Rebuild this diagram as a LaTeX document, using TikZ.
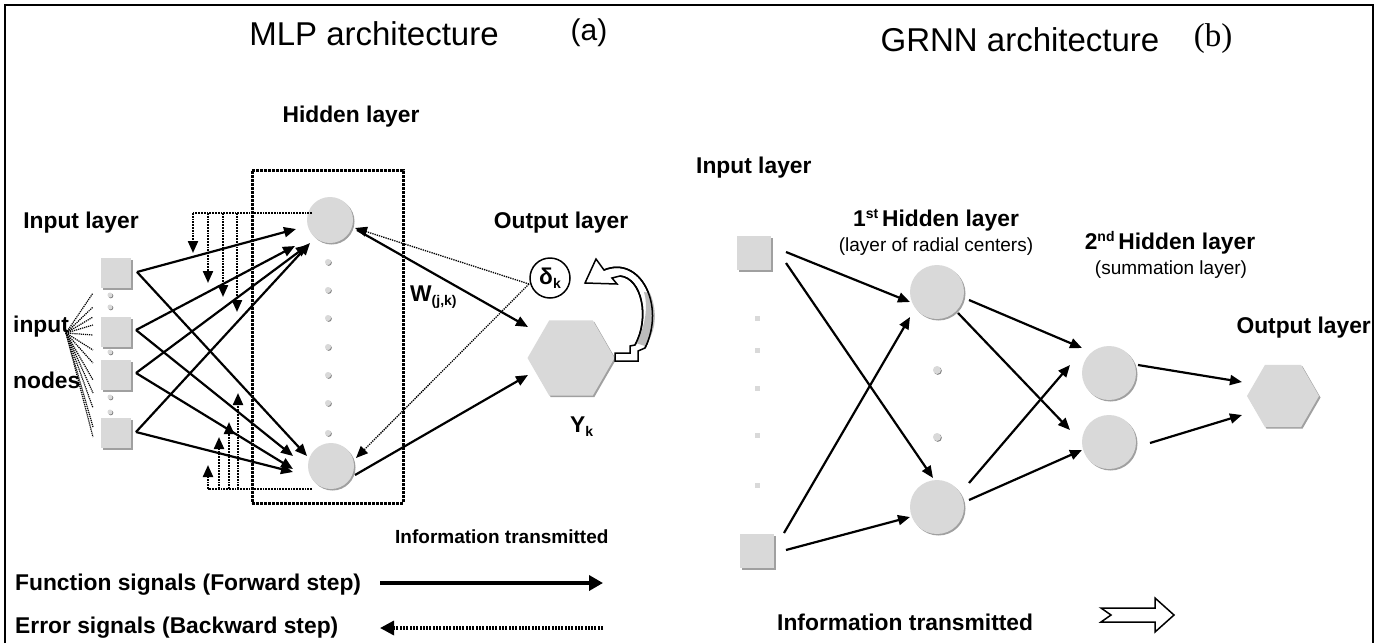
\documentclass[tikz,border=0pt]{standalone}
\usepackage{fontspec}
\setmainfont{Liberation Sans}
\newfontfamily\serifb{Liberation Serif}
\usetikzlibrary{arrows.meta,shapes.geometric,shadows}
\definecolor{nodegray}{RGB}{217,217,217}
\definecolor{shadegray}{RGB}{160,160,160}
\newcommand\lblfont{\bfseries\fontsize{22.8}{26}\selectfont}
\newcommand\mysub[1]{\raisebox{-4pt}{\fontsize{14}{14}\selectfont #1}}
\newcommand\mysup[1]{\raisebox{8pt}{\fontsize{14}{14}\selectfont #1}}
\begin{document}
\begin{tikzpicture}[x=1pt,y=-1pt,
  fwd/.style={line width=2.2pt,-{Triangle[length=12pt,width=10pt]}},
  errarrow/.style={line width=2.2pt,dash pattern=on 1.8pt off 1pt,-{Triangle[length=12pt,width=10pt]}},
  errline/.style={line width=2.2pt,dash pattern=on 1.8pt off 1pt},
  thindot/.style={line width=1.2pt,dash pattern=on 1.2pt off 0.9pt},
  thinerr/.style={line width=1.3pt,dash pattern=on 1.3pt off 1pt,-{Triangle[length=12pt,width=10pt]}},
  shad/.style={drop shadow={shadow xshift=1.5pt,shadow yshift=-1.5pt,fill=shadegray,opacity=1}},
  neuron/.style={circle,fill=nodegray,inner sep=0pt,shad},
  inbox/.style={rectangle,fill=nodegray,inner sep=0pt,shad},
  dotnode/.style={circle,fill=nodegray,inner sep=0pt,minimum size=6pt,drop shadow={shadow xshift=0.8pt,shadow yshift=-0.8pt,fill=gray,opacity=1}},
  sqdot/.style={rectangle,fill=nodegray,inner sep=0pt,minimum size=5pt,drop shadow={shadow xshift=0.8pt,shadow yshift=-0.8pt,fill=gray,opacity=1}},
  hexa/.style={regular polygon,regular polygon sides=6,fill=nodegray,inner sep=0pt,shad},
  lbl/.style={font=\lblfont,inner sep=0pt},
  title/.style={font=\fontsize{33}{36}\selectfont,inner sep=0pt},
  sublbl/.style={font=\fontsize{19}{22}\selectfont,inner sep=0pt}
]
\useasboundingbox (0,0) rectangle (1378,643);
\fill[white] (0,0) rectangle (1378,643);
\draw[line width=1.5pt] (5,643) -- (5,5) -- (1373,5) -- (1373,643);

% ================= MLP =================
\node[title] (tA) at (374,34) {MLP architecture};
\node[title,font=\fontsize{30}{34}\selectfont] (tAa) at (589,33) {(a)};
\node[lbl] (lhid) at (351,117) {Hidden layer};
\node[lbl] (lin) at (81,223) {Input layer};
\node[lbl] (lout) at (561,223) {Output layer};
\node[lbl,anchor=west] (linput) at (13,327) {input};
\node[lbl,anchor=west] (lnodes) at (13,380) {nodes};

% hidden layer box
\node[draw,line width=3pt,dash pattern=on 2.6pt off 1.4pt,minimum width=151pt,minimum height=333pt,inner sep=0] (hbox) at (327.5,336.5) {};

% input squares
\node[inbox,minimum size=30pt] (m_in1) at (116,273) {};
\node[inbox,minimum size=30pt] (m_in2) at (116,332) {};
\node[inbox,minimum size=30pt] (m_in3) at (116,375) {};
\node[inbox,minimum size=30pt] (m_in4) at (116,433) {};
\foreach \yy [count=\i] in {295,307,352,397,412}
  \node[dotnode,minimum size=5pt] (m_idot\i) at (110,\yy) {};

% hidden neurons
\node[neuron,minimum size=46pt] (m_h1) at (330,220) {};
\node[neuron,minimum size=46pt] (m_h2) at (331,466) {};
\foreach \yy [count=\i] in {262,290,318,347,375,403,433}
  \node[dotnode] (m_hdot\i) at (328,\yy) {};

% output
\node[hexa,minimum size=87pt] (m_out) at (571,358) {};
\node[circle,draw,line width=1.5pt,minimum size=40pt,inner sep=0] (m_delta) at (550,278) {\lblfont δ\mysub{k}};
\node[lbl,anchor=west] (lyk) at (570,427) {Y\mysub{k}};
\node[lbl,anchor=west] (lw) at (410,297) {W\mysub{(j,k)}};

% fan lines from "input"
\coordinate (fan) at (66,333);
\foreach \yy [count=\i] in {293,307,317,325,335,350,363,380,393,408,427,437}{
  \coordinate (fe\i) at (93,\yy);
  \draw[thindot] (fan) -- (fe\i);
}

% forward arrows
\coordinate (s1) at (137,272);
\coordinate (s2) at (136,330);
\coordinate (s3) at (136,373);
\coordinate (s4) at (136,432);
\coordinate (t1) at (296,229);
\coordinate (t2) at (295,246);
\coordinate (t3) at (308,245);
\coordinate (t4) at (310,243);
\coordinate (b1) at (307,456);
\coordinate (b2) at (293,456);
\coordinate (b3) at (293,469);
\coordinate (b4) at (293,472);
\foreach \i in {1,2,3,4}{
  \draw[fwd] (s\i) -- (t\i);
  \draw[fwd] (s\i) -- (b\i);
}

% error dotted arrows (top)
\coordinate (et0) at (312,213);
\coordinate (et1) at (193,213);
\draw[errline] (et0) -- (et1);
\foreach \xx/\yy [count=\i] in {193/253,208/283,223/297,237/312}{
  \coordinate (eta\i) at (\xx,213);
  \coordinate (etb\i) at (\xx,\yy);
  \draw[errarrow] (eta\i) -- (etb\i);
}
% error dotted arrows (bottom)
\coordinate (eb0) at (312,489);
\coordinate (eb1) at (208,489);
\draw[errline] (eb0) -- (eb1);
\foreach \xx/\yy [count=\i] in {208/465,219/437,229/422,238/393}{
  \coordinate (eba\i) at (\xx,489);
  \coordinate (ebb\i) at (\xx,\yy);
  \draw[errarrow] (eba\i) -- (ebb\i);
}

% hidden <-> output
\coordinate (dk) at (529,284);
\coordinate (h1r) at (355,228);
\coordinate (h2r) at (356,458);
\coordinate (ot) at (528,327);
\coordinate (ob) at (528,375);
\coordinate (h1s) at (357,230);
\coordinate (h2s) at (355,475);
\draw[thinerr] (dk) -- (h1r);
\draw[thinerr] (dk) -- (h2r);
\draw[fwd] (h1s) -- (ot);
\draw[fwd] (h2s) -- (ob);

% curved feedback arrow
\draw[line width=1.5pt,fill=white,line join=miter]
  (604,270) .. controls (640,255) and (666,305) .. (645,348)
  -- (638,351) -- (638,361) -- (615,361) -- (615,353) -- (630,353) -- (630,346) -- (635,345)
  .. controls (650,318) and (642,278) .. (620,276)
  -- (612,278) -- (617,284) -- (585,283) -- (596,259) -- cycle;
\fill[shadegray!70]
  (636,343) .. controls (646,326) and (648,305) .. (644,292)
  -- (650,293) .. controls (658,312) and (656,332) .. (645,346) -- cycle;
\draw[line width=1.5pt]
  (604,270) .. controls (640,255) and (666,305) .. (645,348);
\draw[line width=1.5pt]
  (635,345) .. controls (650,318) and (642,278) .. (620,276);

% legend
\node[lbl,font=\bfseries\fontsize{19}{22}\selectfont,anchor=west] (linfo1) at (395,537) {Information transmitted};
\node[lbl,anchor=west] (lfun) at (15,585) {Function signals (Forward step)};
\node[lbl,anchor=west] (lerr) at (15,628) {Error signals (Backward step)};
\coordinate (lf1) at (380,583);
\coordinate (lf2) at (603,583);
\coordinate (le1) at (603,628);
\coordinate (le2) at (380,628);
\draw[line width=4pt,-{Triangle[length=14pt,width=15pt]}] (lf1) -- (lf2);
\draw[line width=3.2pt,dash pattern=on 2pt off 1.3pt,-{Triangle[length=14pt,width=14pt]}] (le1) -- (le2);

% ================= GRNN =================
\node[title] (tB) at (1020,40) {GRNN architecture};
\node[title,font=\serifb\fontsize{33}{36}\selectfont] (tBb) at (1213,39) {(b)};
\node[lbl,anchor=west] (glin) at (696,168) {Input layer};
\node[lbl] (glh1) at (936,220) {1\mysup{st}\,Hidden layer};
\node[sublbl] (glh1s) at (936,247) {(layer of radial centers)};
\node[lbl] (glh2) at (1170,243) {2\mysup{nd}\,Hidden layer};
\node[sublbl] (glh2s) at (1171,270) {(summation layer)};
\node[lbl,anchor=east] (glout) at (1371,328) {Output layer};

\node[inbox,minimum size=34pt] (g_in1) at (754,253) {};
\node[inbox,minimum size=34pt] (g_in2) at (757,551) {};
\foreach \yy [count=\i] in {318,350,388,435,485}
  \node[sqdot] (g_idot\i) at (757,\yy) {};
\node[neuron,minimum size=54pt] (g_h1) at (937,292) {};
\node[neuron,minimum size=54pt] (g_h2) at (937,507) {};
\node[dotnode,minimum size=8pt] (g_hd1) at (937,370) {};
\node[dotnode,minimum size=8pt] (g_hd2) at (937,437) {};
\node[neuron,minimum size=54pt] (g_s1) at (1109,373) {};
\node[neuron,minimum size=54pt] (g_s2) at (1109,442) {};
\node[hexa,minimum size=72pt] (g_out) at (1283,396) {};

\coordinate (ga1s) at (786,252); \coordinate (ga1e) at (910,302);
\coordinate (ga2s) at (786,263); \coordinate (ga2e) at (933,478);
\coordinate (ga3s) at (784,533); \coordinate (ga3e) at (910,317);
\coordinate (ga4s) at (786,550); \coordinate (ga4e) at (910,517);
\coordinate (gb1s) at (969,300); \coordinate (gb1e) at (1082,348);
\coordinate (gb2s) at (958,313); \coordinate (gb2e) at (1070,430);
\coordinate (gb3s) at (969,483); \coordinate (gb3e) at (1070,365);
\coordinate (gb4s) at (969,500); \coordinate (gb4e) at (1082,450);
\coordinate (gc1s) at (1138,365); \coordinate (gc1e) at (1242,382);
\coordinate (gc2s) at (1150,443); \coordinate (gc2e) at (1242,415);
\foreach \p in {ga1,ga2,ga3,ga4,gb1,gb2,gb3,gb4,gc1,gc2}
  \draw[fwd] (\p s) -- (\p e);

\node[lbl,anchor=west] (ginfo) at (777,622) {Information transmitted};
\draw[line width=1.5pt,fill=white,line join=miter] (1101,608) -- (1155,608) -- (1155,598) -- (1174,615) -- (1155,632) -- (1155,622) -- (1101,622) -- (1111,615) -- cycle;
\end{tikzpicture}
\end{document}
